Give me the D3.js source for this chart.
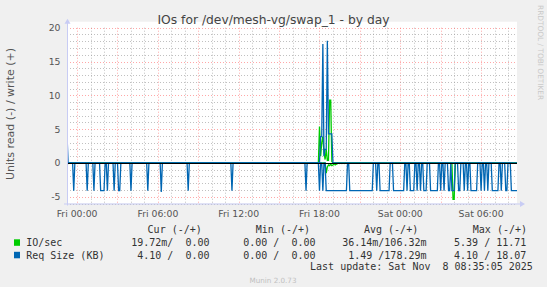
<!DOCTYPE html>
<html><head><meta charset="utf-8">
<script src="https://cdn.jsdelivr.net/npm/d3@7"></script>
<style>html,body{margin:0;padding:0;background:#f0f0f0;} svg{display:block;}</style>
</head><body><svg id="c" width="547" height="287"></svg>
<script>
const title = "IOs for /dev/mesh-vg/swap_1 - by day";
const yLabel = "Units read (-) / write (+)";
const xTickHours = [0, 6, 12, 18, 24, 30];
const yTicks = [-5, 0, 5, 10, 15, 20];
const seriesNames = ["IO/sec", "Req Size (KB)"];
const seriesColors = ["#00cc00", "#0066b3"];
const legendHeader = ["Cur (-/+)", "Min (-/+)", "Avg (-/+)", "Max (-/+)"];
const ioStats = ["19.72m/  0.00", "0.00 /  0.00", "36.14m/106.32m", "5.39 / 11.71"];
const reqStats = ["4.10 /  0.00", "0.00 /  0.00", "1.49 /178.29m", "4.10 / 18.07"];
const lastUpdate = "Last update: Sat Nov  8 08:35:05 2025";
const footer = "Munin 2.0.73";
const sideText = "RRDTOOL / TOBI OETIKER";

// hours relative to Fri 00:00; runs of read request size [startHour, endHour, KB]
const reqReadRuns = [
  [-0.67,-0.67],[-0.42,-0.42],[-0.25,-0.17],[0.17,0.17],[0.75,0.75],[1.25,1.25],[1.75,2.08],
  [2.25,2.25],[2.42,2.42],[2.75,2.75],[3.08,3.17],[3.33,3.33],[3.67,3.67],[4.0,4.0],[4.42,4.42],
  [4.67,4.67],[5.25,5.25],[6.17,6.17,3.5],[6.25,6.25,4.3],[7.83,7.83],[8.25,8.25],[11.08,11.08],
  [11.5,11.5],[12.17,12.17],[13.08,13.08],[14.58,14.58],[15.33,15.33],[15.67,15.67],[16.42,16.42],
  [17.0,17.0],[17.58,17.58],[18.0,18.0],[18.25,18.25],
  [18.42,20.08],[20.25,21.92],[22.08,22.08],[22.25,22.25],[22.42,23.17],[23.33,23.33],[23.5,24.33],
  [24.5,24.5],[24.67,25.08],[25.25,25.33],[25.5,25.58],[25.75,25.92],[26.08,26.08],[26.25,26.83],
  [27.0,27.0],[27.17,27.25],[27.42,27.42],[27.58,27.67],[27.83,28.0],[28.17,28.17],[28.33,28.42],
  [28.58,28.58],[28.75,28.83],[29.0,29.0],[29.17,29.67],[29.83,29.83],[30.0,30.08],[30.25,30.25],
  [30.42,30.5],[30.67,30.67],[30.83,31.25],[31.42,31.5],[31.67,31.67],[31.83,31.92],[32.08,32.08],
  [32.25,32.67]
];
// write request size [hour, KB]
const reqWritePoints = [
  [-0.75,4.2],[18.08,3.9],[18.17,3.9],[18.25,17.6],[18.33,1.0],[18.42,2.0],[18.5,2.0],
  [18.58,18.07],[18.67,4.3],[18.75,4.3],[18.83,4.3],[18.92,4.3]
];
// IO/sec write [hour, value]
const ioWritePoints = [
  [18.0,5.4],[18.08,1.0],[18.17,3.0],[18.25,3.9],[18.33,1.5],[18.42,0.5],[18.5,2.0],
  [18.58,0.4],[18.67,0.4],[18.75,9.3],[18.83,9.3],[18.92,0.2]
];
// IO/sec read [hour, value]
const ioReadPoints = [
  [-0.67,0.1],[18.5,1.5],[18.58,0.6],[18.67,0.3],[18.75,0.4],[18.83,0.2],[18.92,0.4],[19.0,0.3],
  [19.08,0.1],[19.17,0.3],[19.25,0.2],[19.33,0.1],[19.5,0.1],[19.67,0.1],[19.83,0.1],
  [27.92,5.39],[28.0,5.39]
];

const svg = d3.select("#c");
const W = 547, H = 287;
const L = 67, R = 517, T = 27.7, B = 203.5;
const base = new Date(2025, 10, 7, 0, 0, 0);
const toDate = h => new Date(base.getTime() + h * 3600000);

const x = d3.scaleTime().domain([toDate(-0.75), toDate(32.667)]).range([L, R]);
const y = d3.scaleLinear().domain([-6, 20]).range([B, T]);

svg.append("rect").attr("width", W).attr("height", H).attr("fill", "#f0f0f0");
svg.append("rect").attr("x", L).attr("y", T - 6).attr("width", R - L).attr("height", B - T + 6).attr("fill", "#ffffff");

// grid
const g = svg.append("g");
const hourTicks = x.ticks(d3.timeHour.every(1));
hourTicks.forEach(d => {
  const major = d.getHours() % 3 === 0;
  const px = Math.round(x(d)) + 0.5;
  g.append("line").attr("x1", px).attr("x2", px).attr("y1", T).attr("y2", B)
    .attr("stroke", major ? "rgba(255,95,95,0.55)" : "rgba(150,150,150,0.6)")
    .attr("stroke-dasharray", "1,2").attr("stroke-width", 1);
});
d3.range(-6, 21, 1).forEach(v => {
  const major = v % 5 === 0;
  const py = Math.round(y(v)) + 0.5;
  g.append("line").attr("x1", L).attr("x2", R).attr("y1", py).attr("y2", py)
    .attr("stroke", major ? "rgba(255,95,95,0.55)" : "rgba(150,150,150,0.6)")
    .attr("stroke-dasharray", "1,2").attr("stroke-width", 1);
});

// data
const hours = d3.range(-9, 393).map(k => k / 12);
function fromRuns(runs) {
  const v = hours.map(() => 0);
  runs.forEach(r => {
    const val = r.length > 2 ? r[2] : 4.1;
    hours.forEach((h, i) => { if (h >= r[0] - 1e-3 && h <= r[1] + 1e-3) v[i] = val; });
  });
  return hours.map((h, i) => [h, v[i]]);
}
function fromPoints(pts) {
  const v = hours.map(() => 0);
  pts.forEach(([h, val]) => { const i = Math.round(h * 12) + 9; if (i >= 0 && i < v.length) v[i] = val; });
  return hours.map((h, i) => [h, v[i]]);
}
const clip = svg.append("clipPath").attr("id", "clp").append("rect")
  .attr("x", L).attr("y", T - 6).attr("width", R - L).attr("height", B - T + 6);
const plot = svg.append("g").attr("clip-path", "url(#clp)");
const lineNeg = d3.line().x(d => x(toDate(d[0]))).y(d => y(-d[1]));
const linePos = d3.line().x(d => x(toDate(d[0]))).y(d => y(d[1]));

plot.append("path").attr("d", lineNeg(fromPoints(ioReadPoints))).attr("fill", "none").attr("stroke", seriesColors[0]).attr("stroke-width", 1.3);
plot.append("path").attr("d", linePos(fromPoints(ioWritePoints))).attr("fill", "none").attr("stroke", seriesColors[0]).attr("stroke-width", 1.3);
plot.append("path").attr("d", lineNeg(fromRuns(reqReadRuns))).attr("fill", "none").attr("stroke", seriesColors[1]).attr("stroke-width", 1.3);
plot.append("path").attr("d", linePos(fromPoints(reqWritePoints))).attr("fill", "none").attr("stroke", seriesColors[1]).attr("stroke-width", 1.3);

// zero line
const zy = Math.round(y(0)) + 0.5;
svg.append("line").attr("x1", L).attr("x2", R).attr("y1", zy).attr("y2", zy).attr("stroke", "#000").attr("stroke-width", 1);

// axes
const axisCol = "#c8ccf4";
svg.append("line").attr("x1", L + 0.5).attr("x2", L + 0.5).attr("y1", B + 2).attr("y2", T - 5).attr("stroke", axisCol);
svg.append("path").attr("d", `M${L - 2.5},${T - 4} L${L + 3.5},${T - 4} L${L + 0.5},${T - 9} Z`).attr("fill", axisCol);
svg.append("line").attr("x1", L - 3).attr("x2", R + 4).attr("y1", B + 0.5).attr("y2", B + 0.5).attr("stroke", axisCol);
svg.append("path").attr("d", `M${R + 3},${B - 2.5} L${R + 3},${B + 3.5} L${R + 8},${B + 0.5} Z`).attr("fill", axisCol);

// axis labels
const tickFont = "DejaVu Sans, sans-serif";
xTickHours.forEach(h => {
  svg.append("text").attr("x", x(toDate(h))).attr("y", 216.8).attr("text-anchor", "middle")
    .attr("font-family", tickFont).attr("font-size", 9.3).attr("fill", "#555")
    .text(d3.timeFormat("%a %H:%M")(toDate(h)));
});
yTicks.forEach(v => {
  svg.append("text").attr("x", 60.5).attr("y", y(v) + 3.5).attr("text-anchor", "end")
    .attr("font-family", tickFont).attr("font-size", 9.3).attr("fill", "#555").text(String(v));
});
svg.append("text").attr("x", 273.5).attr("y", 23.8).attr("text-anchor", "middle")
  .attr("font-family", tickFont).attr("font-size", 12.3).attr("fill", "#444").text(title);
svg.append("text").attr("transform", "translate(14.2,114) rotate(-90)").attr("text-anchor", "middle")
  .attr("font-family", tickFont).attr("font-size", 11).attr("fill", "#555").text(yLabel);
svg.append("text").attr("transform", "translate(537.5,5) rotate(90)").attr("text-anchor", "start")
  .attr("font-family", tickFont).attr("font-size", 7.4).attr("fill", "#c8c8c8").text(sideText);

// legend
const mono = "DejaVu Sans Mono, monospace";
function mtext(xp, yp, s, anchor) {
  svg.append("text").attr("x", xp).attr("y", yp).attr("text-anchor", anchor || "start")
    .attr("font-family", mono).attr("font-size", 10).attr("fill", "#333")
    .attr("xml:space", "preserve").style("white-space", "pre").text(s);
}
const headX = [147.6, 255.8, 364, 472.8];
legendHeader.forEach((s, i) => mtext(headX[i], 232.9, s));
const colEnd = [209.5, 315.5, 426.5, 526.3];
[ioStats, reqStats].forEach((row, r) => {
  const yy = r === 0 ? 246.1 : 258.6;
  svg.append("rect").attr("x", 14).attr("y", yy - 6.8).attr("width", 6).attr("height", 6.5).attr("fill", seriesColors[r]);
  mtext(26.2, yy, seriesNames[r]);
  row.forEach((s, i) => mtext(colEnd[i], yy, s, "end"));
});
mtext(532.8, 270.3, lastUpdate, "end");
svg.append("text").attr("x", 273).attr("y", 283).attr("text-anchor", "middle")
  .attr("font-family", tickFont).attr("font-size", 7.2).attr("fill", "#c0c0c0").text(footer);
</script></body></html>
